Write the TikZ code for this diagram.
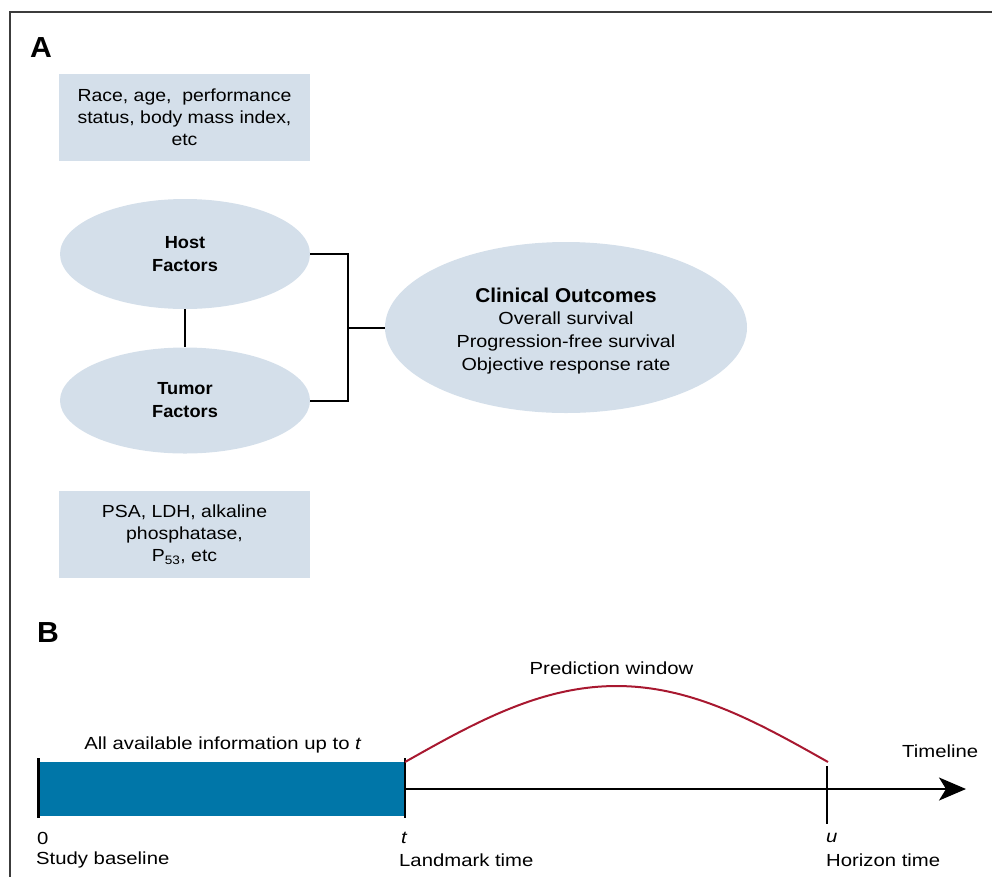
\documentclass[tikz,border=0pt]{standalone}
\usepackage{fontspec}
\setmainfont{Liberation Sans}
\newfontfamily\fa[FakeStretch=1.11]{Liberation Sans}
\newfontfamily\fc[FakeStretch=1.13]{Liberation Sans}
\newfontfamily\fb[FakeStretch=1.16]{Liberation Sans}
\newfontfamily\fbold[FakeStretch=1.04]{Liberation Sans}
\usetikzlibrary{shapes.geometric,arrows.meta}
\definecolor{lightfill}{RGB}{212,223,234}
\definecolor{infoblue}{RGB}{0,118,168}
\definecolor{predred}{RGB}{168,24,48}
\definecolor{framegray}{RGB}{60,60,60}
\begin{document}
\begin{tikzpicture}[x=1pt,y=-1pt,
  txt/.style={font=\fa\fontsize{17.5}{22}\selectfont, align=center},
  infobox/.style={txt, rectangle, fill=lightfill, minimum width=251pt, minimum height=87pt, inner sep=0pt},
  factor/.style={txt, ellipse, fill=lightfill, inner sep=0pt, font=\fbold\fontsize{17.5}{23}\selectfont\bfseries},
  conn/.style={line width=2pt, black},
  panel/.style={font=\fbold\fontsize{29}{30}\selectfont\bfseries},
  lbl/.style={font=\fb\fontsize{17.5}{22}\selectfont, inner sep=0pt}
]
\useasboundingbox (0,0) rectangle (992,876);
% frame
\draw[line width=1.5pt, framegray] (993,12) -- (10,12) -- (10,877);

% Panel A
\node[panel] (labA) at (41,48) {A};
\node[infobox] (box1) at (184.5,117.5) {Race, age,\ \ performance\\status, body mass index,\\etc};
\node[factor, minimum width=250pt, minimum height=110pt] (host) at (185,254) {Host\\Factors};
\node[factor, minimum width=250pt, minimum height=106pt] (tumor) at (185,400.5) {Tumor\\Factors};
\node[txt, font=\fc\fontsize{17.5}{22.7}\selectfont, ellipse, fill=lightfill, inner sep=0pt, minimum width=362pt, minimum height=171pt] (clin) at (566,327.5)
  {\rule{0pt}{21pt}{\fbold\fontsize{20}{22.7}\selectfont\bfseries Clinical Outcomes}\\Overall survival\\Progression-free survival\\Objective response rate};
\node[infobox] (box2) at (184.5,534.5) {PSA, LDH, alkaline\\phosphatase,\\P\textsubscript{53}, etc};

\coordinate (jn) at (348,327.5);
\draw[conn] (host.south) -- (tumor.north);
\draw[conn] (host.east) -| (jn);
\draw[conn] (tumor.east) -| (jn);
\draw[conn] (jn) -- (clin.west);

% Panel B
\node[panel] (labB) at (48,633) {B};
\node[rectangle, fill=infoblue, minimum width=367pt, minimum height=54pt, inner sep=0pt] (info) at (221.5,789) {};
\coordinate (lt) at (405,789);
\coordinate (hu) at (827,789);
\coordinate (tend) at (966,789);
\draw[line width=2pt, -{Stealth[length=27pt,width=23pt,inset=7pt]}] (lt) -- (tend);
\draw[line width=2.5pt] (38.5,758) -- (38.5,818);
\draw[line width=2.5pt] (405,758) -- (405,818);
\draw[line width=2.5pt] (827,766) -- (827,824);
\draw[line width=2pt, predred] plot[domain=0:180, samples=80] ({405+2.35*\x},{762-76*sin(\x)});

\node[lbl] (pw) at (611.5,668) {Prediction window};
\node[lbl] (avail) at (223,745) {All available information up to \textit{t}};
\node[lbl, anchor=west] (tl) at (902,751) {Timeline};
\node[lbl, anchor=west] (n0) at (37,838) {0};
\node[lbl, anchor=west] (sb) at (36,860) {Study baseline};
\node[lbl, anchor=west] (nt) at (401,838) {\textit{t}};
\node[lbl, anchor=west] (lm) at (399,860) {Landmark time};
\node[lbl, anchor=west] (nu) at (826,838) {\textit{u}};
\node[lbl, anchor=west] (hz) at (826,860) {Horizon time};
\end{tikzpicture}
\end{document}
